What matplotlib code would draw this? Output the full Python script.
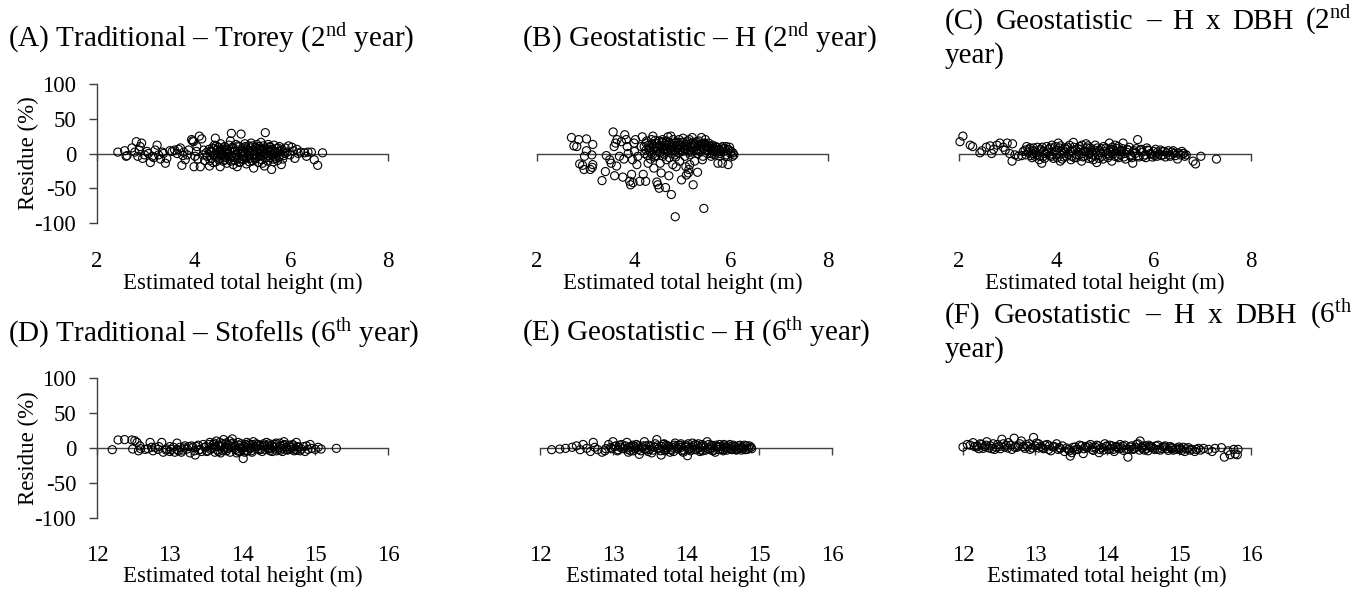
import matplotlib
matplotlib.use("Agg")
import matplotlib.pyplot as plt

plt.rcParams['font.family'] = ['Liberation Serif', 'DejaVu Serif']
plt.rcParams['mathtext.fontset'] = 'custom'
plt.rcParams['mathtext.rm'] = 'Liberation Serif'
plt.rcParams['mathtext.it'] = 'Liberation Serif:italic'
plt.rcParams['mathtext.bf'] = 'Liberation Serif:bold'

# ---------------- data ----------------
titles = [
    r"(A) Traditional – Trorey (2$^{\mathrm{nd}}$ year)",
    r"(B) Geostatistic – H (2$^{\mathrm{nd}}$ year)",
    [["(C)", "Geostatistic", "–", "H", "x", "DBH", r"(2$^{\mathrm{nd}}$"], "year)"],
    r"(D) Traditional – Stofells (6$^{\mathrm{th}}$ year)",
    r"(E) Geostatistic – H (6$^{\mathrm{th}}$ year)",
    [["(F)", "Geostatistic", "–", "H", "x", "DBH", r"(6$^{\mathrm{th}}$"], "year)"],
]
x_label = "Estimated total height (m)"
y_label = "Residue (%)"
xticks_2nd = [2, 4, 6, 8]
xticks_6th = [12, 13, 14, 15, 16]
yticks = [-100, -50, 0, 50, 100]

pts_a = [(2.43,2),(2.57,4),(2.6,-4),(2.62,-3),(2.72,8),(2.78,2),(2.81,17),(2.84,-4),(2.87,5),(2.89,10),
         (2.92,15),(2.94,-7),(2.98,-2),(3.03,3),(3.06,0),(3.1,-13),(3.14,-4),(3.17,-6),(3.2,5),(3.24,12),
         (3.27,-2),(3.31,-8),(3.35,2),(3.37,0),(3.41,-14),(3.44,-7),(3.5,4),(3.55,3),(3.6,5),(3.65,0),
         (3.68,6),(3.72,8),(3.75,-17),(3.77,-3),(3.79,2),(3.82,-9),(3.86,-2),(3.89,5),
         (3.95,20),(3.97,18),(3.99,17),(4.0,-19),(4.02,-4),(4.05,3),(4.06,10),(4.08,-8),(4.11,25),(4.13,-19),
         (4.16,21),(4.18,-2),(4.2,5),(4.22,-10),(4.25,1),(4.27,-4),
         (4.32,-18),(4.34,3),(4.36,-7),(4.38,8),(4.4,-2),(4.42,12),(4.44,22),(4.45,-12),(4.47,5),(4.48,-5),
         (4.5,9),(4.51,-9),(4.52,1),(4.54,-19),(4.55,14),(4.57,-3),(4.58,6),(4.6,-11),(4.62,2),(4.63,10),
         (4.65,-6),(4.67,4),(4.68,-14),(4.7,0),(4.72,12),(4.73,-8),(4.75,18),(4.77,29),(4.78,-3),(4.8,7),
         (4.81,-16),(4.82,2),(4.84,-10),(4.86,13),(4.87,-1),(4.89,-19),(4.9,5),(4.92,-6),(4.94,10),(4.95,-12),
         (4.97,28),(4.98,3),(5.0,-4),(5.02,8),(5.03,-9),(5.05,14),(5.07,0),(5.08,-15),(5.1,6),(5.12,-3),
         (5.13,11),(5.15,-7),(5.17,2),(5.18,15),(5.2,-11),(5.22,5),(5.23,-21),(5.25,-2),(5.27,9),(5.28,-6),
         (5.3,13),(5.32,1),(5.33,-13),(5.35,7),(5.37,-4),(5.38,16),(5.4,-9),(5.42,3),(5.43,11),(5.45,-18),
         (5.47,30),(5.48,-1),(5.5,6),(5.52,-11),(5.53,13),(5.55,2),(5.57,-6),(5.58,9),(5.6,-23),(5.62,4),
         (5.63,-8),(5.65,12),(5.67,0),(5.68,-4),(5.7,7),(5.72,-10),(5.74,3),(5.76,10),(5.78,-2),(5.8,-16),
         (5.82,5),(5.85,-3),
         (5.88,8),(5.92,2),(5.95,11),(5.98,-2),(6.02,9),(6.05,4),(6.08,-7),(6.12,6),(6.15,0),(6.2,2),
         (6.28,1),(6.32,-4),(6.35,2),(6.42,2),(6.48,-9),(6.55,-17),(6.65,1),
         (4.31,6),(4.33,-10),(4.37,2),(4.39,-13),(4.41,7),(4.43,-4),(4.46,11),(4.49,-1),(4.53,-7),(4.56,4),
         (4.59,-2),(4.61,8),(4.64,-9),(4.66,0),(4.69,6),(4.71,-4),(4.74,3),(4.76,-11),(4.79,9),(4.83,-6),
         (4.85,4),(4.88,-2),(4.91,11),(4.93,-13),(4.96,0),(4.99,-8),(5.01,4),(5.04,-2),(5.06,10),(5.09,-6),
         (5.11,2),(5.14,-12),(5.16,8),(5.19,-3),(5.21,11),(5.24,0),(5.26,-8),(5.29,4),(5.31,-4),(5.34,10),
         (5.36,-1),(5.39,6),(5.41,-14),(5.44,0),(5.46,8),(5.49,-6),(5.51,3),(5.54,-3),(5.56,10),(5.59,-1),
         (5.61,6),(5.64,-12),(5.66,3),(5.69,-7),(5.71,1),(5.73,8),(5.75,-5),(5.79,4),(5.83,-8),(5.87,0)]

pts_b = [(2.71,23),(2.86,20),(3.02,21),(2.76,11),(2.82,10),(3.15,13),(3.02,4),(2.98,-4),(3.13,-2),(2.88,-15),
         (2.94,-17),(2.97,-23),(3.15,-16),(3.14,-20),(3.1,-23),
         (3.34,-39),(3.41,-26),(3.43,-3),(3.5,-9),(3.53,-14),(3.57,31),(3.6,-32),(3.64,-18),(3.59,10),(3.62,15),
         (3.65,20),(3.7,-4),(3.74,17),(3.77,-34),(3.79,-8),(3.81,27),(3.84,20),(3.86,10),(3.88,0),(3.91,-40),
         (3.93,-45),(3.95,-30),(3.97,-9),(3.98,-42),(4.0,15),(4.01,3),
         (4.03,20),(4.06,-16),(4.08,-4),(4.12,-40),(4.15,10),(4.17,24),(4.19,-30),(4.22,0),(4.24,-40),(4.25,15),
         (4.29,-14),(4.31,5),(4.34,-8),(4.36,20),(4.39,25),(4.41,-21),(4.43,10),(4.45,-3),(4.46,15),(4.47,-41),
         (4.49,-45),(4.5,8),(4.52,-50),(4.53,1),(4.54,-14),(4.56,-28),(4.58,17),(4.6,-4),(4.61,5),(4.65,-49),
         (4.67,-9),(4.7,24),(4.72,-32),(4.74,10),(4.76,25),(4.77,-59),(4.79,0),(4.8,-16),(4.84,15),(4.86,-5),
         (4.87,-19),(4.91,8),(4.93,20),(4.94,-11),(4.98,-38),(5.0,3),(5.01,22),(5.05,-4),(5.07,-19),(5.08,-31),
         (5.1,10),(5.12,-28),(5.13,-23),(5.15,-16),(5.16,-2),(5.18,15),(5.2,23),(5.22,-45),(5.23,5),(5.25,-11),
         (5.29,17),(5.31,-27),(5.32,0),(5.35,10),(5.39,23),(5.41,-9),(5.42,-4),(5.44,-79),(5.46,15),(5.49,5),
         (5.53,10),(5.56,0),(5.59,-4),(5.63,3),(5.66,-2),(5.7,6),(5.73,-14),(5.77,-4),(5.8,8),(5.82,-14),
         (5.85,3),(5.88,-4),(5.9,10),(5.94,-16),(5.96,5),(5.99,0),(6.03,-4),(6.06,-2),(4.85,-91),
         (4.25,5),(4.3,12),(4.35,0),(4.4,8),(4.42,-5),(4.48,14),(4.52,10),(4.55,2),(4.6,16),(4.63,6),
         (4.66,12),(4.7,3),(4.73,-6),(4.78,12),(4.82,5),(4.85,-2),(4.88,12),(4.95,6),(4.98,16),(5.03,11),
         (5.06,5),(5.1,18),(5.13,2),(5.2,8),(5.25,14),(5.28,4),(5.33,12),(5.38,6),(5.44,14),(5.5,12),
         (5.55,8),(5.6,5),(5.62,12),(5.68,10),(5.72,2),(5.78,0),(5.83,10),(5.93,6),(6.0,3),
         (4.21,10),(4.26,18),(4.28,-3),(4.32,8),(4.37,14),(4.38,-2),(4.44,19),(4.46,4),(4.51,18),(4.53,12),
         (4.57,8),(4.59,20),(4.62,-1),(4.64,14),(4.68,18),(4.69,6),(4.72,16),(4.75,4),(4.77,9),(4.81,20),
         (4.83,11),(4.86,3),(4.9,16),(4.92,1),(4.96,12),(4.99,9),(5.02,16),(5.04,7),(5.08,13),(5.11,5),
         (5.14,20),(5.17,9),(5.19,2),(5.22,16),(5.26,10),(5.3,6),(5.34,18),(5.36,3),(5.4,14),(5.43,7),
         (5.47,20),(5.48,11),(5.52,4),(5.54,15),(5.58,10),(5.61,0),(5.64,8),(5.67,4),(5.71,9),(5.75,6),
         (5.79,3),(5.86,7),(5.91,-2),(5.97,9),(6.04,1)]

pts_c = [(2.08,25),(2.02,17),(2.23,12),(2.28,10),(2.43,1),(2.47,4),(2.56,9),(2.64,11),(2.67,0),(2.71,6),
         (2.78,12),(2.84,15),(2.91,9),(2.95,5),(2.99,15),(3.04,0),(3.09,-11),(3.1,14),(3.15,-2),(3.22,-4),
         (3.29,-3),(3.36,5),(3.39,10),(3.46,8),(3.52,0),(3.56,-4),(3.61,9),(3.65,-9),(3.7,-14),(3.74,3),
         (3.8,10),(3.86,-3),(3.91,12),(3.94,-7),(4.0,5),(4.04,15),(4.08,-11),(4.13,0),(4.18,8),(4.21,-4),
         (4.27,12),(4.3,-9),(4.35,16),(4.39,5),(4.42,-2),(4.48,10),(4.52,-11),(4.56,3),(4.61,14),(4.66,-7),
         (4.7,8),(4.75,-2),(4.8,12),(4.83,-13),(4.89,4),(4.94,-4),(4.97,10),(5.04,0),(5.09,15),(5.14,-11),
         (5.18,5),(5.21,12),(5.26,-4),(5.31,3),(5.37,15),(5.42,-8),(5.45,6),(5.52,-2),(5.57,-14),(5.62,0),
         (5.67,20),(5.72,5),(5.79,-4),(5.86,8),(5.93,0),(6.0,3),(6.07,-4),(6.14,5),(6.2,-2),(6.27,1),
         (6.34,-4),(6.42,0),(6.49,-8),(6.55,-2),(6.62,0),(6.67,-2),(6.81,-11),(6.86,-15),(6.97,-4),(7.29,-8),
         (3.42,2),(3.5,-6),(3.55,4),(3.6,-2),(3.68,6),(3.72,-5),(3.78,0),(3.84,6),(3.9,-4),(3.96,2),
         (4.02,-6),(4.06,8),(4.1,3),(4.15,-5),(4.2,6),(4.25,-1),(4.33,4),(4.37,-6),(4.45,2),(4.5,6),
         (4.58,-4),(4.63,8),(4.68,1),(4.72,-6),(4.78,5),(4.86,-3),(4.92,7),(5.0,3),(5.06,-6),(5.12,6),
         (5.16,-1),(5.24,7),(5.28,-6),(5.34,4),(5.4,0),(5.48,5),(5.55,-6),(5.6,4),(5.68,-3),(5.75,6),
         (5.82,-2),(5.9,4),(5.97,-5),(6.04,6),(6.1,-1),(6.18,3),(6.24,-5),(6.3,4),(6.38,2),(6.45,-3),
         (6.58,3),(6.64,-4),
         (3.32,3),(3.38,-2),(3.44,6),(3.48,-3),(3.53,8),(3.58,1),(3.63,4),(3.66,-4),(3.71,9),(3.76,-7),
         (3.82,2),(3.88,8),(3.92,-1),(3.98,10),(4.01,-2),(4.09,11),(4.12,-8),(4.17,2),(4.23,9),(4.28,3),
         (4.31,-4),(4.36,9),(4.41,-6),(4.44,7),(4.47,-2),(4.53,12),(4.55,-5),(4.6,2),(4.65,11),(4.67,-1),
         (4.73,4),(4.76,-9),(4.81,2),(4.84,8),(4.88,-7),(4.91,1),(4.96,-8),(5.02,8),(5.08,-3),(5.11,2),
         (5.15,9),(5.2,-4),(5.23,3),(5.27,10),(5.32,-2),(5.36,7),(5.39,-5),(5.44,2),(5.5,9),(5.53,-4),
         (5.58,2),(5.64,7),(5.7,-5),(5.77,2),(5.84,-6),(5.88,5),(5.95,-1),(6.02,-3),(6.08,2),(6.15,-3),
         (6.22,3),(6.33,-2),(6.4,4),(6.5,1),(6.6,0)]

pts_d = [(12.21,-2.4),(12.29,11.5),(12.38,12),(12.48,11.5),(12.49,-1.5),(12.52,10.5),(12.55,8),(12.57,-4),
         (12.59,3),(12.66,-2),(12.73,8),(12.75,1),(12.77,-4),(12.84,-2),(12.89,8),(12.91,-6),(12.96,-1.5),
         (13.0,-5),(13.05,1),(13.1,7),(13.12,-4),(13.16,-6),(13.21,3),(13.24,-1.5),(13.28,-7),(13.32,1),
         (13.35,-10),(13.39,4),(13.42,-2),(13.46,5),(13.51,-5),(13.55,8),(13.59,1),(13.62,-6),(13.64,10),
         (13.68,4),(13.7,-7),(13.74,12),(13.76,1),(13.78,-4),(13.8,5),(13.82,10),(13.86,13),(13.88,-0.5),
         (13.92,-7),(13.94,8),(13.97,1),(13.99,-2),(14.01,-15),(14.03,-6),(14.06,8),(14.08,1),(14.1,4),
         (14.12,-4),(14.15,9),(14.18,-0.5),(14.21,5),(14.25,-2),(14.28,3),(14.33,8),(14.36,-1.5),(14.4,4),
         (14.43,1),(14.47,-4),(14.51,7),(14.54,-0.5),(14.57,9),(14.61,-2),(14.64,4),(14.68,1),(14.71,-4),
         (14.74,8),(14.77,1),(14.81,-1.5),(14.86,-5),(14.88,3),(14.93,5),(14.95,-0.5),(15.0,-2),(15.04,1),
         (15.08,-1.5),(15.29,-0.5),
         (13.5,2),(13.56,-2),(13.6,5),(13.66,-3),(13.72,6),(13.75,-2),(13.8,0),(13.84,6),(13.9,3),(13.93,-4),
         (13.98,6),(14.02,2),(14.05,-3),(14.1,-1),(14.14,5),(14.2,2),(14.23,-3),(14.3,4),(14.35,0),(14.38,-4),
         (14.45,5),(14.5,1),(14.53,-3),(14.56,4),(14.6,1),(14.66,-2),(14.7,3),(14.75,-3),(13.0,2),(13.1,-2),
         (13.2,0),(13.3,3),(13.4,-3),(12.85,2),(12.7,-1),
         (13.52,-4),(13.54,5),(13.58,-1),(13.61,7),(13.63,2),(13.67,-5),(13.69,8),(13.71,2),(13.73,-4),(13.77,7),
         (13.79,-1),(13.81,3),(13.83,-6),(13.85,2),(13.87,7),(13.89,3),(13.91,-2),(13.95,4),(13.96,-5),(14.0,0),
         (14.04,5),(14.07,-4),(14.09,6),(14.11,0),(14.13,-6),(14.16,2),(14.19,6),(14.22,-1),(14.24,4),(14.27,-5),
         (14.29,6),(14.31,-2),(14.34,3),(14.37,6),(14.39,-1),(14.41,-5),(14.44,2),(14.46,7),(14.49,-2),(14.52,3),
         (14.55,-5),(14.58,5),(14.62,-3),(14.65,1),(14.69,5),(14.72,-2),(14.76,2),(14.79,-4),(14.84,2),(14.9,-2),
         (13.02,-2),(13.07,-6),(13.14,1),(13.18,-3),(13.26,2),(13.34,-4),(13.37,2),(13.44,-5),(13.48,1),(12.6,-1),
         (12.8,1),(12.95,-3)]

pts_e = [(12.16,-2.4),(12.27,-1.5),(12.35,-0.5),(12.44,1),(12.5,3),(12.55,-2.4),(12.59,5),(12.64,-0.5),
         (12.69,-5),(12.73,8),(12.75,1),(12.79,-2.4),(12.85,-6),(12.89,-4),(12.94,5),(12.97,1),(13.0,9),
         (13.04,3),(13.07,-2.4),(13.12,5),(13.15,-0.5),(13.19,8),(13.21,-6),(13.25,2),(13.28,-4),(13.32,5),
         (13.36,-9),(13.39,1),(13.43,9),(13.46,-2.4),(13.49,4),(13.53,-7),(13.57,1),(13.6,12),(13.62,-1.5),
         (13.66,-10),(13.69,5),(13.72,-2.4),(13.75,3),(13.78,-6),(13.81,1),(13.85,7),(13.89,-1.5),(13.92,4),
         (13.95,-4),(13.99,2),(14.02,-11),(14.05,-0.5),(14.09,7),(14.12,-2.4),(14.16,3),(14.19,-5),(14.22,5),
         (14.26,1),(14.29,9),(14.33,-2.4),(14.36,3),(14.4,-6),(14.43,1),(14.46,5),(14.5,-2.4),(14.53,3),
         (14.57,-0.5),(14.6,5),(14.63,-2.4),(14.67,2),(14.71,-1.5),(14.74,4),(14.77,1),(14.81,-2.4),(14.83,3),
         (14.86,-0.5),(14.89,1),
         (13.6,3),(13.65,-4),(13.7,6),(13.74,0),(13.8,-3),(13.84,4),(13.88,0),(13.93,6),(13.97,-3),(14.0,4),
         (14.04,-2),(14.08,1),(14.13,5),(14.18,0),(14.2,-3),(14.24,3),(14.3,-1),(14.35,4),(14.38,-3),(14.42,2),
         (14.48,-1),(14.52,5),(14.56,-3),(14.62,2),(14.68,-2),(14.72,3),(14.78,-1),(13.3,2),(13.35,-2),(13.45,3),
         (13.5,-2),(13.1,1),(12.9,-1),(13.2,-2),
         (12.98,-1),(13.02,2),(13.06,-4),(13.09,4),(13.13,-1),(13.17,3),(13.22,1),(13.24,-4),(13.27,4),(13.31,-1),
         (13.34,3),(13.38,-4),(13.41,3),(13.44,-1),(13.48,-5),(13.52,2),(13.55,-3),(13.58,6),(13.63,0),(13.67,2),
         (13.71,-4),(13.73,4),(13.77,2),(13.79,-2),(13.83,-5),(13.86,2),(13.9,4),(13.94,1),(13.96,-6),(14.01,1),
         (14.03,6),(14.06,-4),(14.1,3),(14.14,-2),(14.17,6),(14.21,2),(14.23,-4),(14.27,-3),(14.31,5),(14.34,0),
         (14.37,-4),(14.41,4),(14.44,-2),(14.47,2),(14.51,-4),(14.54,1),(14.58,3),(14.61,-1),(14.65,4),(14.69,-3),
         (14.73,0),(14.76,-3),(14.8,4),(14.84,-2),(14.87,3),(14.9,-1)]

pts_f = [(12.0,1.4),(12.06,5),(12.14,7.6),(12.19,1.4),(12.24,6),(12.28,-0.5),(12.33,9),(12.38,3),(12.44,-2),
         (12.48,5),(12.54,12.5),(12.58,1.4),(12.63,7.6),(12.68,-2),(12.71,14),(12.77,3),(12.81,10),(12.86,-0.5),
         (12.88,5),(12.93,-2),(12.98,15),(13.0,3),(13.05,6),(13.1,0.5),(13.14,4),(13.19,-2),(13.22,-4),
         (13.25,1.4),(13.3,6),(13.34,0.5),(13.41,-5),(13.46,-2),(13.49,-11.5),(13.51,-6.7),(13.56,1.4),(13.6,-2),
         (13.65,3),(13.67,-8),(13.72,0.5),(13.77,5),(13.81,-3.4),(13.86,4),(13.89,-6.7),(13.93,0.5),(13.97,6),
         (14.02,-2),(14.07,3),(14.1,-5),(14.15,0.5),(14.18,5),(14.23,-3.4),(14.29,-13),(14.32,1.4),(14.36,-2),
         (14.41,5),(14.46,10),(14.49,-0.5),(14.54,3),(14.57,-4),(14.62,1.4),(14.66,-2),(14.71,4),(14.76,-0.5),
         (14.81,3),(14.85,-3.4),(14.9,0.5),(14.95,-2),(15.0,1.4),(15.04,-3.4),(15.08,-5),(15.13,0.5),(15.18,-2),
         (15.22,-5),(15.27,-0.5),(15.34,-0.5),(15.41,-2),(15.46,-5),(15.5,-0.5),(15.59,0.5),(15.63,-13),
         (15.68,-4),(15.71,-9.6),(15.76,-2),(15.78,-8.6),(15.81,-9.6),(15.82,-2),
         (12.2,3),(12.3,2),(12.4,-1),(12.5,2),(12.6,4),(12.75,1),(12.9,2),(13.05,0),(13.2,3),(13.35,-1),
         (13.55,-3),(13.7,2),(13.8,1),(13.9,-2),(14.0,3),(14.05,-1),(14.12,2),(14.2,0),(14.25,4),(14.3,-2),
         (14.4,1),(14.45,-3),(14.5,3),(14.55,-1),(14.6,2),(14.7,-2),(14.8,1),(14.9,-1),(15.0,-2),(15.1,-1),
         (12.1,4),(12.16,2),(12.22,-1),(12.26,5),(12.32,4),(12.36,0),(12.42,6),(12.46,1),(12.52,-1),(12.56,6),
         (12.62,0),(12.66,4),(12.72,1),(12.79,6),(12.84,2),(12.92,6),(12.96,0),(13.02,7),(13.08,2),(13.12,-1),
         (13.17,5),(13.27,2),(13.32,-2),(13.38,3),(13.44,0),(13.48,-4),(13.53,1),(13.58,-2),(13.62,4),(13.68,-1),
         (13.74,3),(13.79,-2),(13.84,1),(13.88,3),(13.95,-3),(13.99,2),(14.04,4),(14.09,-2),(14.14,2),(14.17,-1),
         (14.22,3),(14.27,-2),(14.34,3),(14.38,-1),(14.43,6),(14.48,1),(14.52,-3),(14.58,4),(14.64,0),(14.68,3),
         (14.74,-3),(14.78,2),(14.83,-1),(14.88,2),(14.92,-3),(14.97,0),(15.02,-1),(15.06,1),(15.15,-3),(15.24,-2),
         (15.3,-3)]

# ---------------- layout ----------------
W, H = 1370, 589
fig = plt.figure(figsize=(13.7, 5.89), dpi=100)

def px_ax(l, r, t, b):
    return fig.add_axes([l / W, 1 - b / H, (r - l) / W, (b - t) / H])

panels = [
    dict(box=(97, 388, 84, 223), pts=pts_a, xt=xticks_2nd, showy=True, tx=8, ty=47, xl=283),
    dict(box=(537, 828, 84, 223), pts=pts_b, xt=xticks_2nd, showy=False, tx=522, ty=47, xl=283),
    dict(box=(959, 1251, 84, 223), pts=pts_c, xt=xticks_2nd, showy=False, tx=945, ty=29, tx2=1352, ty2=63, xl=283),
    dict(box=(97, 388, 378, 518), pts=pts_d, xt=xticks_6th, showy=True, tx=8, ty=342, xl=576),
    dict(box=(540, 832, 378, 518), pts=pts_e, xt=xticks_6th, showy=False, tx=522, ty=341, xl=576),
    dict(box=(963, 1251, 378, 518), pts=pts_f, xt=xticks_6th, showy=False, tx=945, ty=323, tx2=1352, ty2=357, xl=576),
]

TFS = 21
LFS = 16.5
axcol = '#404040'
renderer = fig.canvas.get_renderer()

for p, title in zip(panels, titles):
    l, r, t, b = p['box']
    ax = px_ax(l, r, t, b)
    xs = [q[0] for q in p['pts']]
    ys = [q[1] for q in p['pts']]
    ax.scatter(xs, ys, s=34, facecolors='none', edgecolors='black', linewidths=0.8, zorder=3, clip_on=False)
    ax.set_xlim(p['xt'][0], p['xt'][-1])
    ax.set_ylim(-100, 100)
    ax.patch.set_visible(False)
    for s in ('top', 'right'):
        ax.spines[s].set_visible(False)
    ax.spines['bottom'].set_position(('data', 0))
    ax.spines['bottom'].set_color(axcol)
    ax.spines['bottom'].set_linewidth(1.0)
    ax.spines['bottom'].set_zorder(1)
    ax.set_xticks(p['xt'])
    ax.set_xticklabels([str(v) for v in p['xt']])
    ax.tick_params(axis='x', direction='out', length=5, width=1.0, color=axcol,
                   labelsize=LFS, pad=65)
    if p['showy']:
        ax.spines['left'].set_color(axcol)
        ax.spines['left'].set_linewidth(1.0)
        ax.set_yticks(yticks)
        ax.set_yticklabels([str(v) for v in yticks])
        ax.tick_params(axis='y', direction='out', length=6, width=1.0, color=axcol,
                       labelsize=LFS, pad=9)
        fig.text(28 / W, 1 - ((t + b) / 2) / H, y_label, rotation=90, ha='center', va='center',
                 fontsize=LFS)
    else:
        ax.spines['left'].set_visible(False)
        ax.set_yticks([])
    # x label
    fig.text(((l + r) / 2) / W, 1 - p['xl'] / H, x_label, ha='center', va='center', fontsize=LFS)
    # title
    if isinstance(title, str):
        fig.text(p['tx'] / W, 1 - p['ty'] / H, title, ha='left', va='baseline', fontsize=TFS)
    else:
        words, second = title
        objs = [fig.text(0, 1 - p['ty'] / H, w, ha='left', va='baseline', fontsize=TFS) for w in words]
        widths = [o.get_window_extent(renderer).width for o in objs]
        total = p['tx2'] - p['tx']
        gap = (total - sum(widths)) / (len(words) - 1)
        xcur = p['tx']
        for o, wd in zip(objs, widths):
            o.set_x(xcur / W)
            xcur += wd + gap
        fig.text(p['tx'] / W, 1 - p['ty2'] / H, second, ha='left', va='baseline', fontsize=TFS)

fig.savefig('out.png', dpi=100)
